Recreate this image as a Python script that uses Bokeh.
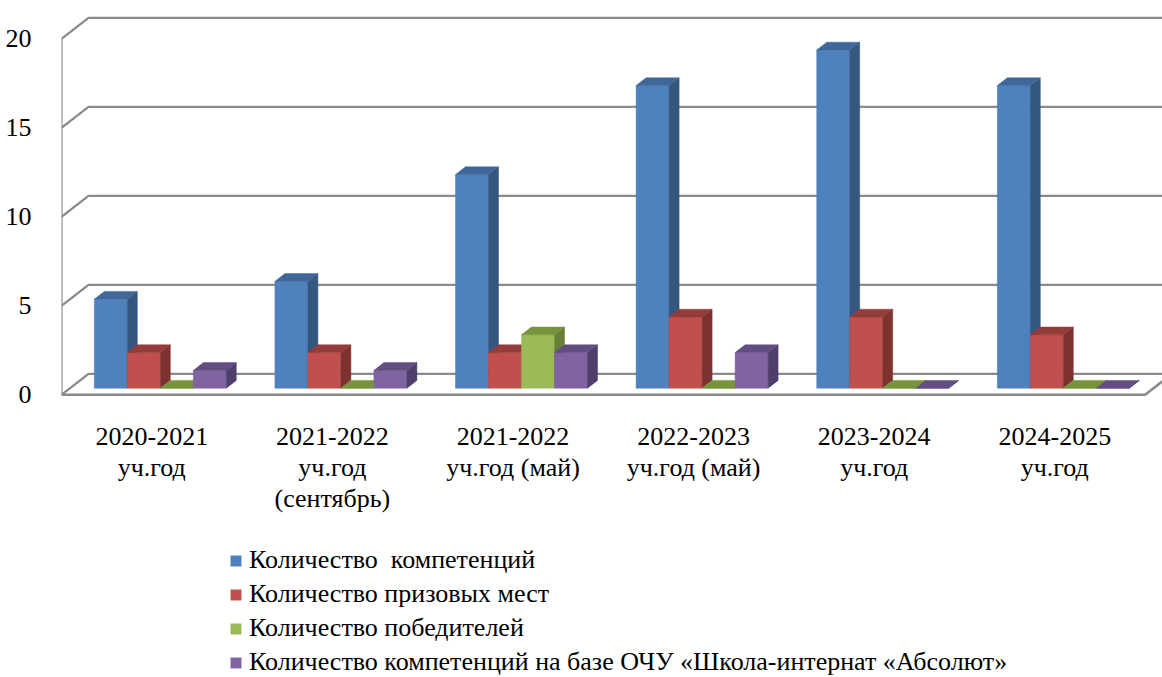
from bokeh.plotting import figure
from bokeh.models import Range1d, FixedTicker, Legend, LegendItem
from bokeh.core.properties import value
from bokeh.embed import file_html
from bokeh.resources import INLINE

# ---------------- data ----------------
categories = [
    "2020-2021\nуч.год",
    "2021-2022\nуч.год\n(сентябрь)",
    "2021-2022\nуч.год (май)",
    "2022-2023\nуч.год (май)",
    "2023-2024\nуч.год",
    "2024-2025\nуч.год",
]
series_names = [
    "Количество  компетенций",
    "Количество призовых мест",
    "Количество победителей",
    "Количество компетенций на базе ОЧУ «Школа-интернат «Абсолют»",
]
competencies = [5, 6, 12, 17, 19, 17]
prize_places = [2, 2, 2, 4, 4, 3]
winners = [0, 0, 3, 0, 0, 0]
absolut_base = [1, 1, 2, 2, 0, 0]
y_ticks = [0, 5, 10, 15, 20]

series_values = [competencies, prize_places, winners, absolut_base]
front_colors = ["#4F81BD", "#C0504D", "#9BBB59", "#8064A2"]
side_colors = ["#34577F", "#7E3230", "#687F37", "#4F3E6B"]
top_colors = ["#3F679A", "#943C3A", "#77933C", "#624D80"]

FONT = "Liberation Serif"
GRID = "#8A8A8A"

# ---------------- geometry (layout) ----------------
W_PX, H_PX = 1162, 677
ORIGIN = 0           # page offset of the figure
LEFT = 61            # frame starts here (figure px)
CAT_PX = 180.6       # px per category
UNIT_PX = 17.8       # px per value unit
ZERO_PAGE = 394.3    # page y of front zero line
n = len(categories)

DX = 27.0 / CAT_PX   # depth offset in category units
DY = 21.0 / UNIT_PX  # depth offset in value units
BAR_W = 33.0 / CAT_PX
GAP = (1 - 4 * BAR_W) / 2
D0, D1 = 0.315, 0.685


def v_of_page(py):
    return (ZERO_PAGE - py) / UNIT_PX


y_start = v_of_page(ORIGIN + H_PX)
y_end = v_of_page(ORIGIN)
x_end = (W_PX - LEFT) / CAT_PX

p = figure(width=W_PX, height=H_PX, output_backend="svg", toolbar_location=None,
           x_range=Range1d(0, x_end), y_range=Range1d(y_start, y_end),
           min_border_left=LEFT, min_border_right=0, min_border_top=0, min_border_bottom=0,
           x_axis_location=None, y_axis_location="left")
p.outline_line_color = None
p.xgrid.visible = False
p.ygrid.visible = False
p.background_fill_color = "white"
p.border_fill_color = "white"

yax = p.yaxis[0]
yax.ticker = FixedTicker(ticks=y_ticks)
yax.axis_line_color = None
yax.major_tick_line_color = None
yax.minor_tick_line_color = None
yax.major_label_text_font = FONT
yax.major_label_text_font_size = "26px"
yax.major_label_text_color = "black"
yax.major_label_standoff = 24

# ---------------- walls / grid ----------------
for t in y_ticks:
    p.line([0, DX, n + DX + 1], [t, t + DY, t + DY], line_color=GRID, line_width=2.2)
p.line([0, 0], [0, max(y_ticks)], line_color=GRID, line_width=2.2)
p.line([0, n, n + DX], [0, 0, DY], line_color=GRID, line_width=2.6)

# ---------------- bars ----------------
ddx = (D1 - D0) * DX
ddy = (D1 - D0) * DY
front_renderers = []
for j, vals in enumerate(series_values):
    fx, fy, sx, sy, tx, ty = [], [], [], [], [], []
    for i, v in enumerate(vals):
        x0 = i + GAP + j * BAR_W + D0 * DX
        x1 = x0 + BAR_W
        y0 = D0 * DY
        y1 = y0 + v
        fx.append([x0, x1, x1, x0]); fy.append([y0, y0, y1, y1])
        sx.append([x1, x1 + ddx, x1 + ddx, x1]); sy.append([y0, y0 + ddy, y1 + ddy, y1])
        tx.append([x0, x1, x1 + ddx, x0 + ddx]); ty.append([y1, y1, y1 + ddy, y1 + ddy])
    rf = p.patches(fx, fy, fill_color=front_colors[j], line_color=front_colors[j], line_width=0.5)
    p.patches(sx, sy, fill_color=side_colors[j], line_color=side_colors[j], line_width=0.5)
    p.patches(tx, ty, fill_color=top_colors[j], line_color=top_colors[j], line_width=0.5)
    front_renderers.append(rf)

# ---------------- category labels ----------------
baselines_page = [435.5, 466.5, 497.5]
lx, ly, lt = [], [], []
for i, cat in enumerate(categories):
    for k, line in enumerate(cat.split("\n")):
        lx.append(i + 0.5)
        ly.append(v_of_page(baselines_page[k]))
        lt.append(line)
p.text(lx, ly, text=lt, text_font=value(FONT), text_font_size="26px",
       text_align="center", text_baseline="alphabetic", text_color="black")

# ---------------- legend ----------------
legend = Legend(items=[LegendItem(label=series_names[j], renderers=[front_renderers[j]])
                       for j in range(4)],
                location=(229 - LEFT, H_PX - 679), orientation="vertical",
                glyph_width=13, glyph_height=13, label_height=34, label_standoff=7,
                spacing=0, padding=0, margin=0,
                label_text_font=FONT, label_text_font_size="26px", label_text_color="black",
                border_line_color=None, background_fill_alpha=0)
p.add_layout(legend, "center")

open("out.html", "w").write(file_html(p, INLINE))
